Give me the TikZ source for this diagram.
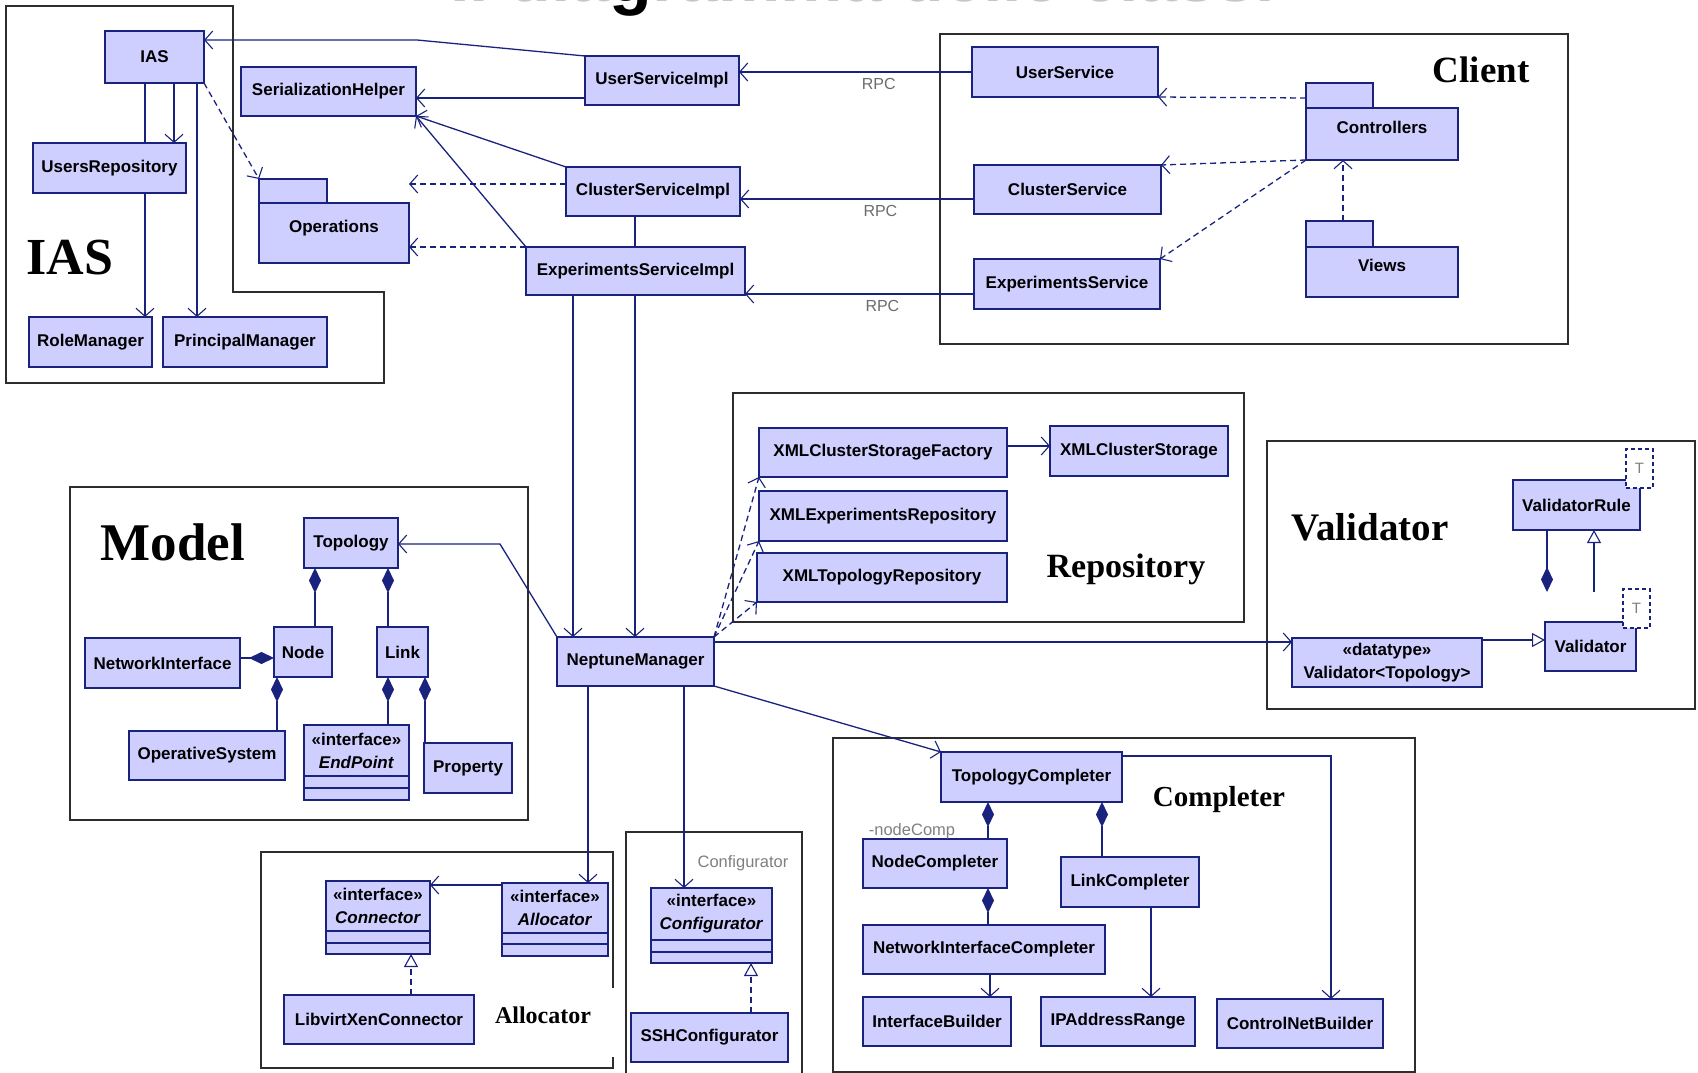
\documentclass[tikz,border=0pt]{standalone}
\usepackage{fontspec}
\setmainfont{Liberation Serif}
\setsansfont{Liberation Sans}
\usetikzlibrary{arrows.meta}

\definecolor{umlfill}{RGB}{206,206,255}
\definecolor{umlline}{RGB}{25,35,125}
\definecolor{framecol}{RGB}{45,45,45}

\begin{document}
\begin{tikzpicture}[x=1pt, y=-1pt,
        cls/.style={draw=umlline, fill=umlfill, line width=1.6pt, inner sep=0pt, outer sep=0pt, align=center,
                font=\sffamily\bfseries\fontsize{17}{23}\selectfont},
        pkg/.style={cls, text height=12pt, text depth=14pt},
        compart/.style={draw=umlline, fill=umlfill, line width=1.6pt},
        tmpl/.style={draw=umlline, dash pattern=on 4pt off 3pt, fill=white, line width=1.2pt, inner sep=0pt, text=gray,
                font=\sffamily\fontsize{15}{17}\selectfont},
        grpframe/.style={draw=framecol, line width=1.6pt},
        pkgtitle/.style={font=\rmfamily\bfseries\fontsize{#1}{#1}\selectfont},
        solidln/.style={draw=umlline, line width=1.3pt},
        assoc/.style={solidln, -{Straight Barb[length=8pt,width=18pt,line width=1.1pt]}},
        dep/.style={assoc, dash pattern=on 6pt off 4pt},
        comp/.style={solidln, {Diamond[length=25pt,width=12pt]}-},
        gen/.style={solidln, -{Triangle[open,length=13pt,width=14pt,fill=white,line width=1.1pt]}},
        real/.style={gen, dash pattern=on 6pt off 4pt},
        rpc/.style={font=\sffamily\fontsize{16}{18}\selectfont, text=gray!85!black, below=2pt},
        gtext/.style={font=\sffamily\fontsize{16.5}{18}\selectfont, text=gray}]

        \path[use as bounding box, fill=white] (0,0) rectangle (1698,1073);

        \begin{scope}
                \clip (0,0) rectangle (1698,1073);
                \node[anchor=base west, inner sep=0pt, text=gray!45, font=\sffamily\bfseries\fontsize{70}{70}\selectfont] (ttl) at (450,2) {Il dia\textcolor{black}{g}ramma delle classi};
        \end{scope}

        \draw[grpframe] (6,6) -- (233,6) -- (233,292) -- (384,292) -- (384,383) -- (6,383) -- cycle;
        \draw[grpframe] (940,34) rectangle (1568,344);
        \draw[grpframe] (70,487) rectangle (528,820);
        \draw[grpframe] (733,393) rectangle (1244,622);
        \draw[grpframe] (1267,441) rectangle (1695,709);
        \draw[grpframe] (613,988) -- (613,852) -- (261,852) -- (261,1068) -- (613,1068) -- (613,1057);
        \draw[grpframe] (626,1080) -- (626,832) -- (802,832) -- (802,1080);
        \draw[grpframe] (833,738) rectangle (1415,1072);

        \node[pkgtitle=52] (iasttl) at (70,258) {IAS};
        \node[pkgtitle=37] (clientttl) at (1481,70) {Client};
        \node[pkgtitle=53] (modelttl) at (173,542) {Model};
        \node[pkgtitle=34] (repottl) at (1126,569) {Repository};
        \node[pkgtitle=39] (validttl) at (1370,527) {Validator};
        \node[pkgtitle=29] (complttl) at (1219,800) {Completer};
        \node[pkgtitle=24] (allocttl) at (543,1015) {Allocator};
        \node[gtext] (confttl) at (743,863) {Configurator};

        \node[cls, minimum width=99pt, minimum height=52pt] (ias) at (154.5,57) {IAS};
        \node[cls, minimum width=175pt, minimum height=49pt] (sh) at (328.5,91.5) {SerializationHelper};
        \node[cls, minimum width=153pt, minimum height=50pt] (usrrepo) at (109.5,168) {UsersRepository};
        \node[cls, minimum width=123pt, minimum height=50pt] (rolemgr) at (90.5,342) {RoleManager};
        \node[cls, minimum width=164pt, minimum height=50pt] (princmgr) at (245,342) {PrincipalManager};
        \node[pkg, minimum width=150pt, minimum height=60pt] (ops) at (334,233) {Operations};
        \coordinate (opstab) at ([yshift=24pt]ops.north west);
        \draw[compart] (opstab) rectangle ++(68,24);

        \node[cls, minimum width=154pt, minimum height=49pt] (usi) at (662,80.5) {UserServiceImpl};
        \node[cls, minimum width=174pt, minimum height=49pt] (csi) at (653,191.5) {ClusterServiceImpl};
        \node[cls, minimum width=219pt, minimum height=48pt] (esi) at (635.5,271) {ExperimentsServiceImpl};

        \node[cls, minimum width=186pt, minimum height=50pt] (usvc) at (1065,72) {UserService};
        \node[cls, minimum width=187pt, minimum height=49pt] (csvc) at (1067.5,189.5) {ClusterService};
        \node[cls, minimum width=186pt, minimum height=50pt] (esvc) at (1067,284) {ExperimentsService};
        \node[pkg, minimum width=152pt, minimum height=52pt] (ctrl) at (1382,134) {Controllers};
        \draw[compart] ([yshift=25pt]ctrl.north west) rectangle ++(67,25);
        \node[pkg, minimum width=152pt, minimum height=50pt] (views) at (1382,272) {Views};
        \coordinate (viewstab) at ([yshift=26pt]views.north west);
        \draw[compart] (viewstab) rectangle ++(67,26);

        \node[cls, minimum width=94pt, minimum height=50pt] (topo) at (351,543) {Topology};
        \node[cls, minimum width=58pt, minimum height=50pt] (nodecls) at (303,652) {Node};
        \node[cls, minimum width=51pt, minimum height=50pt] (link) at (402.5,652) {Link};
        \node[cls, minimum width=155pt, minimum height=50pt] (netif) at (162.5,663) {NetworkInterface};
        \node[cls, minimum width=156pt, minimum height=49pt] (opsys) at (207,755.5) {OperativeSystem};
        \node[cls, minimum width=105pt, minimum height=51pt] (endpt) at (356.5,750.5) {«interface»\\\textit{EndPoint}};
        \draw[compart] (endpt.south west) rectangle ++(105,12) ++(-105,0) rectangle ++(105,12) coordinate (endptend);
        \node[cls, minimum width=88pt, minimum height=50pt] (prop) at (468,768) {Property};

        \node[cls, minimum width=157pt, minimum height=49pt] (nm) at (635.5,661.5) {NeptuneManager};

        \node[cls, minimum width=248pt, minimum height=49pt] (xcsf) at (883,452.5) {XMLClusterStorageFactory};
        \node[cls, minimum width=178pt, minimum height=50pt] (xcs) at (1139,451) {XMLClusterStorage};
        \node[cls, minimum width=248pt, minimum height=50pt] (xer) at (883,516) {XMLExperimentsRepository};
        \node[cls, minimum width=250pt, minimum height=49pt] (xtr) at (882,577.5) {XMLTopologyRepository};

        \node[cls, minimum width=127pt, minimum height=50pt] (vrule) at (1576.5,505) {ValidatorRule};
        \node[tmpl, minimum width=27pt, minimum height=39pt] (vrt) at (1639.5,468.5) {T};
        \node[cls, minimum width=91pt, minimum height=49pt] (valid) at (1590.5,646.5) {Validator};
        \node[tmpl, minimum width=27pt, minimum height=39pt] (vt) at (1636.5,608.5) {T};
        \node[cls, minimum width=190pt, minimum height=49pt] (vdt) at (1387,662.5) {«datatype»\\Validator<Topology>};

        \node[cls, minimum width=104pt, minimum height=50pt] (conn) at (378,906) {«interface»\\\textit{Connector}};
        \draw[compart] (conn.south west) rectangle ++(104,12) ++(-104,0) rectangle ++(104,11) coordinate (connend);
        \node[cls, minimum width=106pt, minimum height=50pt] (alloc) at (555,908) {«interface»\\\textit{Allocator}};
        \draw[compart] (alloc.south west) rectangle ++(106,11) ++(-106,0) rectangle ++(106,12);
        \node[cls, minimum width=190pt, minimum height=49pt] (lxc) at (379,1019.5) {LibvirtXenConnector};

        \node[cls, minimum width=121pt, minimum height=52pt] (conf) at (711.5,914) {«interface»\\\textit{Configurator}};
        \draw[compart] (conf.south west) rectangle ++(121,12) ++(-121,0) rectangle ++(121,11) coordinate (confend);
        \node[cls, minimum width=157pt, minimum height=49pt] (ssh) at (709.5,1037.5) {SSHConfigurator};

        \node[cls, minimum width=181pt, minimum height=50pt] (tc) at (1031.5,777) {TopologyCompleter};
        \node[cls, minimum width=144pt, minimum height=49pt] (nc) at (935,863.5) {NodeCompleter};
        \node[gtext] (ncrole) at (912,831) {-nodeComp};
        \node[cls, minimum width=138pt, minimum height=50pt] (lc) at (1130,882) {LinkCompleter};
        \node[cls, minimum width=242pt, minimum height=49pt] (nic) at (984,949.5) {NetworkInterfaceCompleter};
        \node[cls, minimum width=148pt, minimum height=49pt] (ib) at (937,1021.5) {InterfaceBuilder};
        \node[cls, minimum width=154pt, minimum height=49pt] (ipar) at (1118,1021.5) {IPAddressRange};
        \node[cls, minimum width=166pt, minimum height=49pt] (cnb) at (1300,1023.5) {ControlNetBuilder};

        \draw[solidln] (ias.south -| 145,0) -- (usrrepo.north -| 145,0);
        \draw[assoc] (usrrepo.south -| 145,0) -- (rolemgr.north -| 145,0);
        \draw[assoc] (ias.south -| 174,0) -- (usrrepo.north -| 174,0);
        \draw[assoc] (ias.south -| 197,0) -- (princmgr.north -| 197,0);
        \draw[dep] (ias.south east) -- (opstab);

        \draw[assoc] (usi.north west) -- (417,40) -- (ias.east |- 0,40);
        \draw[assoc] (usi.west |- 0,98) -- (sh.east |- 0,98);
        \draw[assoc] (csi.north west) -- (sh.south east);
        \draw[assoc] (esi.north west) -- (sh.south east);
        \draw[dep] (csi.west |- 0,184) -- (ops.east |- 0,184);
        \draw[dep] (esi.west |- 0,247) -- (ops.east |- 0,247);
        \draw[solidln] (csi.south -| 635,0) -- (esi.north -| 635,0);
        \draw[assoc] (esi.south -| 573,0) -- (nm.north -| 573,0);
        \draw[assoc] (esi.south -| 635,0) -- (nm.north -| 635,0);

        \draw[assoc] (usvc.west |- 0,72) -- (usi.east |- 0,72) node[rpc, pos=0.4] {RPC};
        \draw[assoc] (csvc.west |- 0,199) -- (csi.east |- 0,199) node[rpc, pos=0.4] {RPC};
        \draw[assoc] (esvc.west |- 0,294) -- (esi.east |- 0,294) node[rpc, pos=0.4] {RPC};

        \draw[dep] (ctrl.north west |- 0,98) -- (usvc.south east);
        \draw[dep] (ctrl.south west) -- (csvc.north east);
        \draw[dep] (ctrl.south west) -- (esvc.north east);
        \draw[dep] (viewstab -| 1343,0) -- (ctrl.south -| 1343,0);

        \draw[comp] (topo.south -| 315,0) -- (nodecls.north -| 315,0);
        \draw[comp] (topo.south -| 388,0) -- (link.north -| 388,0);
        \draw[comp] (link.south -| 388,0) -- (endpt.north -| 388,0);
        \draw[comp] (link.south -| 425,0) -- (prop.north -| 425,0);
        \draw[comp] (nodecls.west |- 0,658) -- (netif.east |- 0,658);
        \draw[comp] (nodecls.south -| 277,0) -- (opsys.north -| 277,0);

        \draw[assoc] (nm.north west) -- (500,544) -- (topo.east |- 0,544);
        \draw[dep] (nm.north east) -- (xcsf.south west);
        \draw[dep] (nm.north east) -- (xer.south west);
        \draw[dep] (nm.north east) -- (xtr.south west);
        \draw[assoc] (xcsf.east |- 0,446) -- (xcs.west |- 0,446);

        \draw[assoc] (nm.east |- 0,642) -- (vdt.west |- 0,642);
        \draw[gen] (vdt.east |- 0,640) -- (valid.west |- 0,640);
        \coordinate (vcomp) at (1547,592);
        \coordinate (vgen) at (1594,592);
        \draw[comp] (vcomp) -- (vcomp |- vrule.south);
        \draw[gen] (vgen) -- (vgen |- vrule.south);

        \draw[assoc] (nm.south -| 588,0) -- (alloc.north -| 588,0);
        \draw[assoc] (alloc.west |- 0,885) -- (conn.east |- 0,885);
        \draw[real] (lxc.north -| 411,0) -- (connend -| 411,0);
        \draw[assoc] (nm.south -| 684,0) -- (conf.north -| 684,0);
        \draw[real] (ssh.north -| 751,0) -- (confend -| 751,0);

        \draw[assoc] (nm.south east) -- (tc.north west);
        \draw[assoc] (tc.east |- 0,756) -| (cnb.north -| 1331,0);
        \draw[comp] (tc.south -| 988,0) -- (nc.north -| 988,0);
        \draw[comp] (tc.south -| 1102,0) -- (lc.north -| 1102,0);
        \draw[comp] (nc.south -| 988,0) -- (nic.north -| 988,0);
        \draw[assoc] (nic.south -| 990,0) -- (ib.north -| 990,0);
        \draw[assoc] (lc.south -| 1151,0) -- (ipar.north -| 1151,0);

\end{tikzpicture}
\end{document}
